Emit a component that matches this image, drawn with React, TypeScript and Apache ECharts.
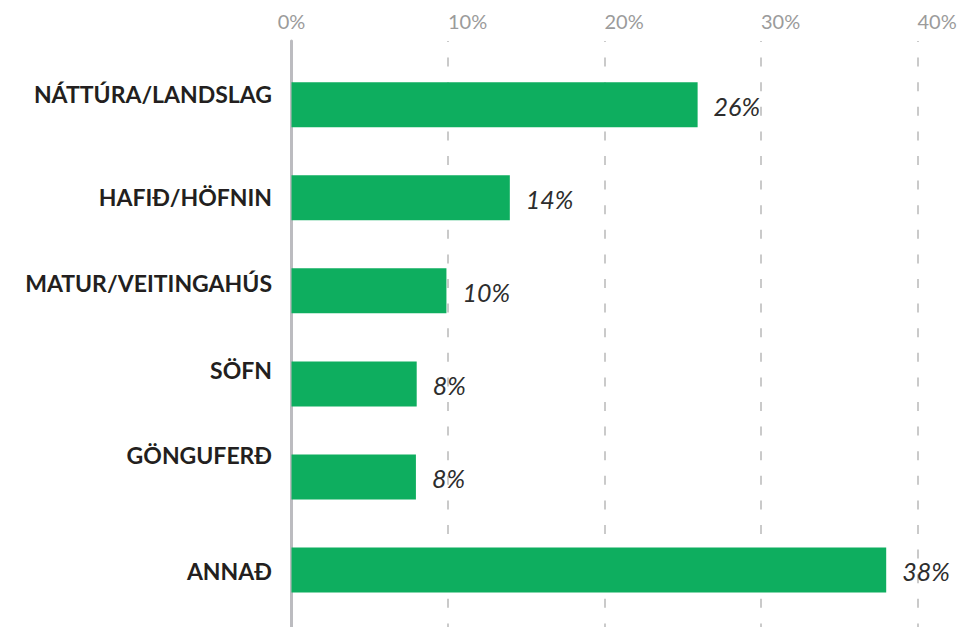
import React, { useEffect, useRef } from "react";
import * as echarts from "echarts";

const categories = [
  "NÁTTÚRA/LANDSLAG",
  "HAFIÐ/HÖFNIN",
  "MATUR/VEITINGAHÚS",
  "SÖFN",
  "GÖNGUFERÐ",
  "ANNAÐ",
];
const values = [25.95, 13.95, 9.9, 8.0, 7.95, 38.0];
const xMin = 0;
const xMax = 40;
const xInterval = 10;

// upward shift (px) of each category label relative to its bar (style only)
const labelShift = [10.7, 1, 8, 13.5, 22, -1];

const FONT = "Lato, 'Noto Sans', sans-serif";

export default function App() {
  const ref = useRef<HTMLDivElement>(null);

  useEffect(() => {
    if (!ref.current) return;
    const chart = echarts.init(ref.current, undefined, { renderer: "svg" });

    const rich: Record<string, any> = {};
    labelShift.forEach((s, i) => {
      rich["s" + i] = {
        fontFamily: FONT,
        fontWeight: "bold",
        fontSize: 23,
        color: "#231f20",
        padding: s >= 0 ? [0, 0, 2 * s, 0] : [-2 * s, 0, 0, 0],
      };
    });

    const left = 291.5;
    const right = 51.5;

    chart.setOption({
      animation: false,
      grid: [
        { left, right, top: 41, bottom: 0 },
        { left, right, top: 58.2, height: 558.3 },
      ],
      xAxis: [
        {
          gridIndex: 0,
          type: "value",
          position: "top",
          min: xMin,
          max: xMax,
          interval: xInterval,
          axisLine: { show: false },
          axisTick: {
            show: true,
            inside: true,
            length: 4,
            lineStyle: { color: "#cacaca", width: 2 },
          },
          axisLabel: {
            formatter: "{value}%",
            align: "left",
            alignMinLabel: "center",
            margin: 10,
            fontFamily: FONT,
            fontSize: 20,
            color: "#9b9b9b",
          },
          splitLine: {
            show: true,
            lineStyle: {
              color: "#cacaca",
              width: 2,
              type: [9, 15.6],
              dashOffset: 7.6,
            },
          },
        },
        {
          gridIndex: 1,
          type: "value",
          min: xMin,
          max: xMax,
          show: false,
        },
      ],
      yAxis: [
        {
          gridIndex: 0,
          type: "value",
          min: 0,
          max: 1,
          axisLine: {
            show: true,
            lineStyle: { color: "#bcbcc0", width: 3 },
          },
          axisTick: { show: false },
          axisLabel: { show: false },
          splitLine: { show: false },
        },
        {
          gridIndex: 1,
          type: "category",
          data: categories,
          inverse: true,
          axisLine: { show: false },
          axisTick: { show: false },
          splitLine: { show: false },
          axisLabel: {
            margin: 19.5,
            fontFamily: FONT,
            fontWeight: "bold",
            fontSize: 23,
            color: "#231f20",
            formatter: (v: string, i: number) => `{s${i}|${v}}`,
            rich,
          },
        },
      ],
      series: [
        {
          type: "bar",
          xAxisIndex: 1,
          yAxisIndex: 1,
          data: values,
          barWidth: 45,
          itemStyle: { color: "#0eae5f" },
          label: {
            show: true,
            position: "right",
            distance: 16,
            offset: [0, 1],
            formatter: (p: any) => Math.round(p.value) + "%",
            fontFamily: FONT,
            fontStyle: "italic",
            fontSize: 25,
            color: "#2d2d2d",
          },
        },
      ],
    });

    return () => chart.dispose();
  }, []);

  return (
    <div
      ref={ref}
      style={{ position: "absolute", left: 0, top: 0, width: 969, height: 627 }}
    />
  );
}
